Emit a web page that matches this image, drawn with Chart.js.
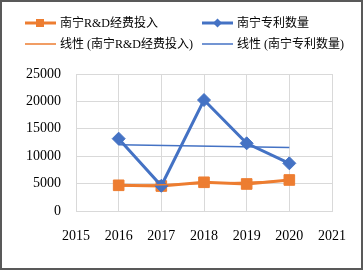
<!DOCTYPE html>
<html>
<head>
<meta charset="utf-8">
<script src="https://cdn.jsdelivr.net/npm/chart.js@4"></script>
<style>
html, body { margin: 0; padding: 0; background: #fff; }
</style>
</head>
<body>
<canvas id="graphique" width="363" height="270"></canvas>
<script>
// donnees
const annees = [2016, 2017, 2018, 2019, 2020];
const depensesRD = [4690, 4560, 5240, 4930, 5660];
const brevets = [13200, 4600, 20250, 12350, 8700];
const ticksX = [2015, 2016, 2017, 2018, 2019, 2020, 2021];
const ticksY = [0, 5000, 10000, 15000, 20000, 25000];
const noms = ['南宁R&D经费投入', '南宁专利数量', '线性 (南宁R&D经费投入)', '线性 (南宁专利数量)'];

const ORANGE = '#ED7D31';
const BLEU = '#4472C4';
const POLICE = "'Liberation Serif', 'Times New Roman', 'Noto Sans CJK SC', serif";

// droite des moindres carres (courbe de tendance Excel)
function tendance(xs, ys) {
   const n = xs.length;
   const mx = xs.reduce((a, b) => a + b) / n;
   const my = ys.reduce((a, b) => a + b) / n;
   let num = 0, den = 0;
   for (let i = 0; i < n; i++) {
      num += (xs[i] - mx) * (ys[i] - my);
      den += (xs[i] - mx) ** 2;
   }
   const b = num / den, a = my - b * mx;
   return [xs[0], xs[n - 1]].map(x => ({ x: x, y: a + b * x }));
}

const points = (ys) => annees.map((x, i) => ({ x: x, y: ys[i] }));

// legende dessinee a la main (2 colonnes comme dans Excel)
const legendeExcel = {
   id: 'legendeExcel',
   afterDraw(chart) {
      const c = chart.ctx;
      const pos = [[25, 23], [202, 23], [25, 44], [202, 44]];
      chart.data.datasets.forEach((ds, i) => {
         const [x, y] = pos[i];
         c.save();
         c.strokeStyle = ds.borderColor;
         c.lineWidth = ds.borderWidth;
         c.beginPath();
         c.moveTo(x, y);
         c.lineTo(x + 31, y);
         c.stroke();
         c.fillStyle = ds.borderColor;
         if (ds.pointStyle === 'rect') {
            c.fillRect(x + 11, y - 4, 8, 8);
         } else if (ds.pointStyle === 'rectRot') {
            c.beginPath();
            c.moveTo(x + 15.5, y - 4.5);
            c.lineTo(x + 20, y);
            c.lineTo(x + 15.5, y + 4.5);
            c.lineTo(x + 11, y);
            c.closePath();
            c.fill();
         }
         c.fillStyle = '#000';
         c.font = '12px ' + POLICE;
         c.textBaseline = 'middle';
         c.fillText(noms[i], x + 35, y + 1);
         c.restore();
      });
      // cadre du graphique
      c.save();
      c.strokeStyle = '#595959';
      c.lineWidth = 2;
      c.strokeRect(1, 1, chart.width - 2, chart.height - 2);
      c.restore();
   }
};

const ctx = document.getElementById('graphique');

new Chart(ctx, {
   type: 'line',
   data: {
      datasets: [{
         label: noms[0],
         data: points(depensesRD),
         borderColor: ORANGE,
         backgroundColor: ORANGE,
         borderWidth: 3,
         pointStyle: 'rect',
         pointRadius: 7.5,
         pointBorderWidth: 1,
         order: 2
      }, {
         label: noms[1],
         data: points(brevets),
         borderColor: BLEU,
         backgroundColor: BLEU,
         borderWidth: 3,
         pointStyle: 'rectRot',
         pointRadius: 6.5,
         pointBorderWidth: 1,
         order: 1
      }, {
         label: noms[2],
         data: tendance(annees, depensesRD),
         borderColor: ORANGE,
         borderWidth: 1.5,
         pointRadius: 0,
         order: 0
      }, {
         label: noms[3],
         data: tendance(annees, brevets),
         borderColor: BLEU,
         borderWidth: 1.5,
         pointRadius: 0,
         order: 0
      }]
   },
   options: {
      responsive: false,
      animation: false,
      layout: {
         padding: { left: 0, right: 26, top: 74, bottom: 0 }
      },
      plugins: {
         legend: { display: false },
         tooltip: { enabled: false }
      },
      scales: {
         x: {
            type: 'linear',
            min: 2015,
            max: 2021,
            afterBuildTicks: s => { s.ticks = ticksX.map(v => ({ value: v })); },
            afterFit: s => { s.height = 59; },
            ticks: {
               callback: v => String(v),
               color: '#000',
               font: { family: POLICE, size: 14 },
               padding: 17,
               maxRotation: 0
            },
            grid: { color: '#d9d9d9', drawTicks: false },
            border: { color: '#d9d9d9' }
         },
         y: {
            min: 0,
            max: 25000,
            afterBuildTicks: s => { s.ticks = ticksY.map(v => ({ value: v })); },
            afterFit: s => { s.width = 76; },
            ticks: {
               callback: v => String(v),
               color: '#000',
               font: { family: POLICE, size: 14 },
               padding: 15
            },
            grid: { color: '#d9d9d9', drawTicks: false },
            border: { color: '#d9d9d9' }
         }
      }
   },
   plugins: [legendeExcel]
});
</script>
</body>
</html>
